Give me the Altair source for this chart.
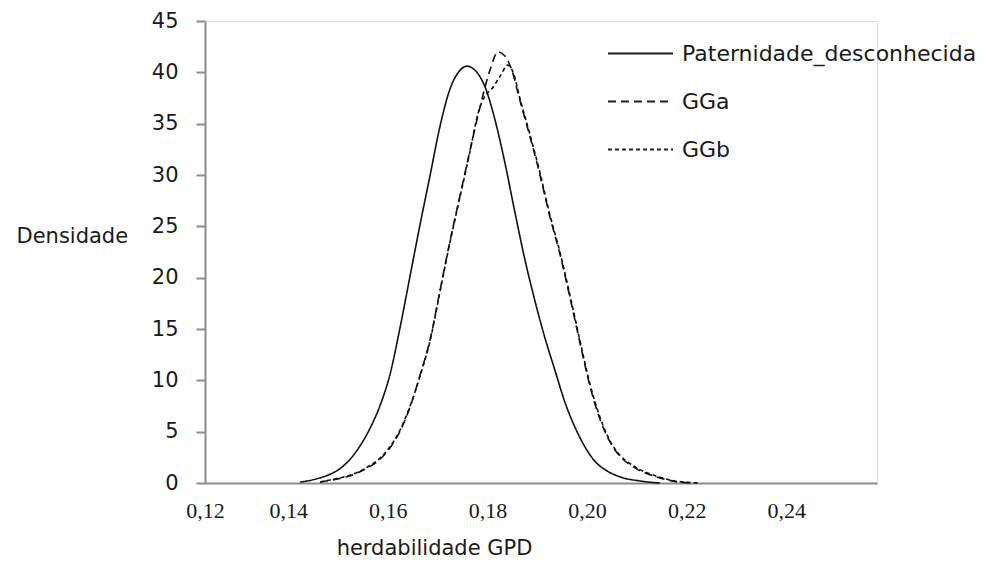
import altair as alt
import pandas as pd

# Posterior density curves of GPD heritability for three pedigree scenarios
series_names = ["Paternidade_desconhecida", "GGa", "GGb"]

pat_h = [0.1424, 0.1444, 0.1464, 0.1484, 0.1504, 0.1524, 0.1544, 0.1564, 0.1584,
         0.1604, 0.1624, 0.1644, 0.1664, 0.1685, 0.1705, 0.1725, 0.1745, 0.1759,
         0.1775, 0.1795, 0.1815, 0.1835, 0.1855, 0.1875, 0.1895, 0.1915, 0.1936,
         0.1956, 0.1976, 0.1996, 0.2016, 0.2036, 0.2066, 0.2106, 0.2146]
pat_d = [0.1, 0.25, 0.5, 0.85, 1.4, 2.3, 3.6, 5.3, 7.5,
         10.5, 15.0, 20.0, 25.0, 30.0, 34.8, 38.4, 40.2, 40.6,
         40.2, 38.6, 35.4, 31.2, 26.4, 21.8, 17.8, 14.2, 10.9,
         7.8, 5.4, 3.5, 2.1, 1.3, 0.6, 0.2, 0.0]

gga_h = [0.1464, 0.1484, 0.1504, 0.1524, 0.1544, 0.1564, 0.1584, 0.1604, 0.1624,
         0.1644, 0.1664, 0.1685, 0.1705, 0.1725, 0.1745, 0.1765, 0.1785, 0.1805,
         0.1821, 0.1835, 0.1849, 0.1865, 0.1885, 0.1905, 0.1925, 0.1946, 0.1966,
         0.1986, 0.2006, 0.2026, 0.2046, 0.2066, 0.2086, 0.2106, 0.2126, 0.2146,
         0.2176, 0.2206]
gga_d = [0.1, 0.25, 0.45, 0.7, 1.1, 1.6, 2.3, 3.4, 5.0,
         7.3, 10.4, 14.0, 18.8, 23.6, 28.0, 32.4, 36.6, 40.2,
         42.0, 41.6, 40.2, 37.3, 33.8, 30.1, 26.0, 22.2, 18.0,
         13.6, 9.4, 6.2, 4.0, 2.6, 1.8, 1.2, 0.8, 0.5,
         0.15, 0.0]

ggb_h = [0.1464, 0.1484, 0.1504, 0.1524, 0.1544, 0.1564, 0.1584, 0.1604, 0.1624,
         0.1644, 0.1664, 0.1685, 0.1705, 0.1725, 0.1745, 0.1765, 0.1781, 0.1795,
         0.1809, 0.1825, 0.1841, 0.1853, 0.1865, 0.1885, 0.1905, 0.1925, 0.1946,
         0.1966, 0.1986, 0.2006, 0.2026, 0.2046, 0.2066, 0.2086, 0.2106, 0.2126,
         0.2146, 0.2176, 0.2206, 0.2227]
ggb_d = [0.1, 0.3, 0.5, 0.75, 1.15, 1.7, 2.4, 3.5, 5.1,
         7.4, 10.3, 13.9, 18.7, 23.5, 27.9, 32.3, 36.0, 37.7,
         38.4, 39.6, 40.7, 39.8, 37.5, 34.0, 30.3, 26.2, 22.4,
         18.2, 13.8, 9.6, 6.4, 4.1, 2.7, 1.9, 1.3, 0.9,
         0.55, 0.2, 0.05, 0.0]

# Axis settings
x_domain = [0.1233, 0.2582]
x_tick_values = [0.1233, 0.14, 0.16, 0.18, 0.20, 0.22, 0.24]
y_tick_values = [0, 5, 10, 15, 20, 25, 30, 35, 40, 45]

frames = []
for name, hs, ds in [(series_names[0], pat_h, pat_d),
                     (series_names[1], gga_h, gga_d),
                     (series_names[2], ggb_h, ggb_d)]:
    frames.append(pd.DataFrame({"h": hs, "dens": ds, "serie": name}))
data = pd.concat(frames, ignore_index=True)

SANS = "DejaVu Sans"
SERIF = "Liberation Serif"
AXIS_GREY = "#8c8c8c"
TEXT = "#1a1a1a"

chart = (
    alt.Chart(data)
    .mark_line(color="#111111", strokeWidth=1.6, interpolate="monotone")
    .encode(
        x=alt.X(
            "h:Q",
            scale=alt.Scale(domain=x_domain, nice=False, zero=False),
            axis=alt.Axis(
                values=x_tick_values,
                labelExpr="replace(format(datum.value, '.2f'), '.', ',')",
                grid=False,
                ticks=False,
                tickSize=0,
                labelFont=SERIF,
                labelFontSize=22,
                labelColor=TEXT,
                labelBaseline="alphabetic",
                labelPadding=34,
                labelFlush=False,
                labelOverlap=False,
                domainColor=AXIS_GREY,
                domainWidth=2,
                title="herdabilidade GPD",
                titleFont=SANS,
                titleFontSize=21,
                titleFontWeight="normal",
                titleColor=TEXT,
                titleX=229,
                titleY=65,
                titleAlign="center",
                titleBaseline="middle",
            ),
        ),
        y=alt.Y(
            "dens:Q",
            scale=alt.Scale(domain=[0, 45], nice=False),
            axis=alt.Axis(
                values=y_tick_values,
                grid=False,
                tickSize=9,
                tickColor=AXIS_GREY,
                tickWidth=2,
                domainColor=AXIS_GREY,
                domainWidth=2,
                labelFont=SANS,
                labelFontSize=21,
                labelColor=TEXT,
                labelPadding=18,
                labelFlush=False,
                title="Densidade",
                titleFont=SANS,
                titleFontSize=21,
                titleFontWeight="normal",
                titleColor=TEXT,
                titleAngle=0,
                titleAlign="left",
                titleBaseline="middle",
                titleX=-189,
                titleY=215,
            ),
        ),
        strokeDash=alt.StrokeDash(
            "serie:N",
            scale=alt.Scale(domain=series_names, range=[[1, 0], [8, 5], [4, 3]]),
            sort=series_names,
            legend=alt.Legend(
                title=None,
                orient="none",
                legendX=402,
                legendY=-1,
                symbolType="stroke",
                symbolSize=4225,
                symbolStrokeWidth=2,
                symbolStrokeColor="#222222",
                labelFont=SANS,
                labelFontSize=22,
                labelColor=TEXT,
                labelOffset=8,
                labelLimit=0,
                rowPadding=3,
                padding=0,
            ),
        ),
        order="h:Q",
    )
    .properties(
        width=672,
        height=462,
        autosize=alt.AutoSizeParams(type="none"),
        padding={"left": 205, "top": 21, "right": 107, "bottom": 86},
    )
    .configure_view(stroke=None)
    .configure(background="white")
)

chart.save("out.html", embed_options={"renderer": "svg", "actions": False})
